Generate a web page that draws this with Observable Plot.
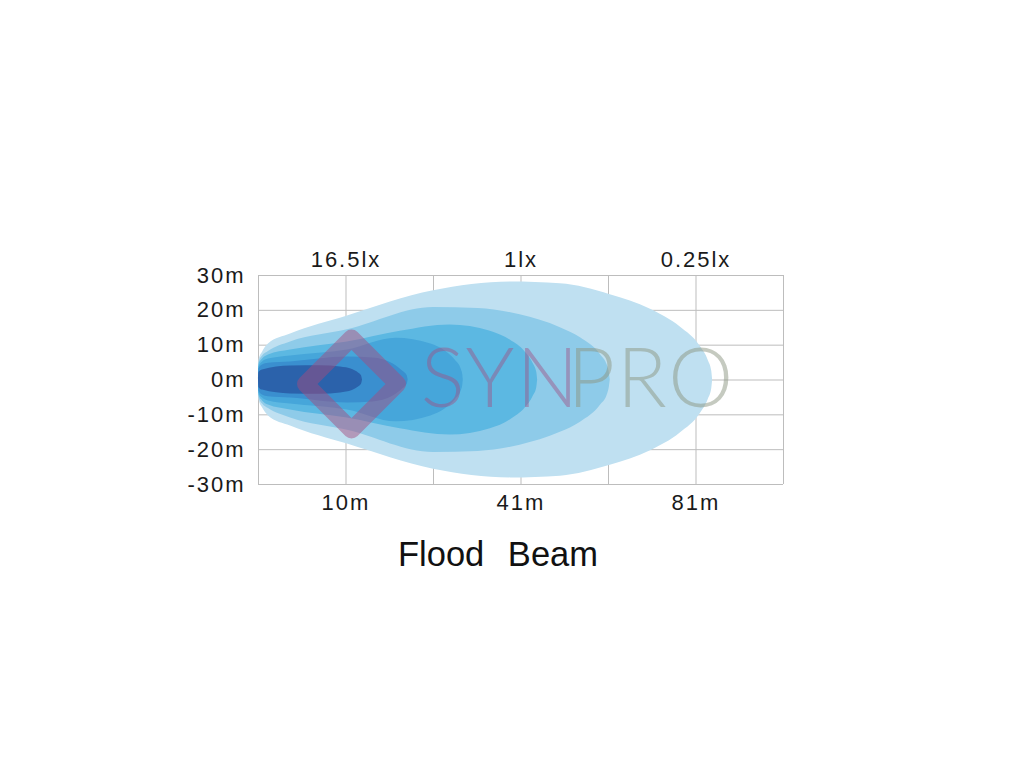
<!DOCTYPE html>
<html>
<head>
<meta charset="utf-8">
<script src="https://cdn.jsdelivr.net/npm/d3@7"></script>
<script src="https://cdn.jsdelivr.net/npm/@observablehq/plot@0.6"></script>
<style>
  body { margin: 0; background: #fff; }
  #title {
    margin-top: 17px;
    width: 996px;
    text-align: center;
    font-family: "Liberation Sans", Arial, sans-serif;
    font-size: 34.5px;
    line-height: 34px;
    word-spacing: 14px;
    color: #111;
  }
</style>
</head>
<body>
<div id="chart"></div>
<div id="title">Flood Beam</div>
<script>
// Grid positions (column index along the beam) and ranges
const gridColumns = [0, 1, 2, 3, 4, 5, 6];
const gridRows = [-30, -20, -10, 0, 10, 20, 30];

// Tick labels
const labelColumns = [1, 3, 5];
const distanceLabels = ["10m", "41m", "81m"];
const luxLabels = ["16.5lx", "1lx", "0.25lx"];
const lateralTicks = [30, 20, 10, 0, -10, -20, -30];

// Beam contours: [column position, half-width in metres], outermost first
const contour1 = [[0,0],[0.006,5.7],[0.046,8.0],[0.114,10.3],[0.366,13.2],[1.017,18.4],[2.0,25.6],[2.88,28.1],[3.45,27.6],[4.02,24.5],[4.48,20.3],[4.82,15.2],[5.05,9.6],[5.14,5.6],[5.18,2.5],[5.19,0]];
const contour2 = [[0,0],[0.006,5.0],[0.046,6.9],[0.114,8.2],[0.366,10.9],[1.017,14.4],[2.0,20.8],[2.51,20.5],[2.99,18.7],[3.45,15.0],[3.68,12.1],[3.91,7.2],[3.99,4.0],[4.01,2.0],[4.02,0]];
const contour3 = [[0,0],[0.006,4.4],[0.046,6.0],[0.114,7.2],[0.366,8.6],[1.017,10.9],[1.62,14.0],[2.19,15.8],[2.65,14.0],[2.88,11.4],[3.05,8.0],[3.14,4.7],[3.18,2.2],[3.19,0]];
const contour4 = [[0,0],[0.006,3.8],[0.046,5.2],[0.114,6.0],[0.366,6.9],[1.017,8.6],[1.57,12.0],[1.97,10.3],[2.14,8.2],[2.25,5.7],[2.32,2.9],[2.335,1.4],[2.34,0]];
const contour5 = [[0,0],[0.006,3.2],[0.046,4.3],[0.114,4.8],[0.366,5.2],[1.017,6.6],[1.31,6.3],[1.54,4.6],[1.65,2.5],[1.70,1.2],[1.71,0]];
const contour6 = [[0,0],[0.006,2.2],[0.046,2.9],[0.366,4.0],[0.709,4.1],[0.937,3.7],[1.074,3.0],[1.143,2.0],[1.177,1.2],[1.189,0]];
const contours = [contour1, contour2, contour3, contour4, contour5, contour6];
const contourColors = ["#bfe0f1", "#8ecbe9", "#5cb8e2", "#46a6da", "#3a8fcf", "#2b62ab"];

// Watermark
const watermarkWords = ["SYN", "PRO"];
const watermarkAt = [[2.766, -0.3], [4.49, -0.3]];
const watermarkColors = ["rgba(160,80,130,0.45)", "rgba(140,150,130,0.5)"];
const logoAt = [[1.063, -1.15]];

const beamMarks = contours.map((c, i) =>
  Plot.areaY(c, {
    x: d => d[0],
    y1: d => -d[1],
    y2: d => d[1],
    fill: contourColors[i],
    curve: "monotone-x"
  })
);

const wm = watermarkWords.map((w, i) => ({word: w, x: watermarkAt[i][0], y: watermarkAt[i][1], color: watermarkColors[i]}));

const chart = Plot.plot({
  width: 1024,
  height: 520,
  marginLeft: 258,
  marginRight: 241,
  marginTop: 275,
  marginBottom: 36,
  style: {fontFamily: "Liberation Sans, Arial, sans-serif", fontSize: "22px", letterSpacing: "2px", color: "#1a1a1a", background: "#fff"},
  x: {domain: [0, 6]},
  y: {domain: [-30, 30]},
  marks: [
    Plot.gridX(gridColumns, {stroke: "#bdbdbd", strokeOpacity: 1, strokeWidth: 1}),
    Plot.gridY(gridRows, {stroke: "#bdbdbd", strokeOpacity: 1, strokeWidth: 1}),
    ...beamMarks,
    Plot.dot(logoAt, {x: d => d[0], y: d => d[1], symbol: "square", r: 36.7, rotate: 45, fill: "none",
      stroke: "rgba(165,75,125,0.48)", strokeWidth: 17, strokeLinejoin: "round"}),
    Plot.text(wm, {x: "x", y: "y", text: "word", fill: d => d.color, fontSize: 82, fontWeight: 300,
      fontFamily: "Lato, Inter, sans-serif", lineAnchor: "middle", textAnchor: "middle"}),
    Plot.axisY(lateralTicks, {tickFormat: d => d + "m", tickSize: 0, tickPadding: 13, label: null, fontSize: 22}),
    Plot.axisX(labelColumns, {anchor: "bottom", tickFormat: d => distanceLabels[labelColumns.indexOf(d)], tickSize: 0, tickPadding: 10, label: null, fontSize: 22}),
    Plot.axisX(labelColumns, {anchor: "top", tickFormat: d => luxLabels[labelColumns.indexOf(d)], tickSize: 0, tickPadding: 9, label: null, fontSize: 22})
  ]
});
document.getElementById("chart").appendChild(chart);
</script>
</body>
</html>
